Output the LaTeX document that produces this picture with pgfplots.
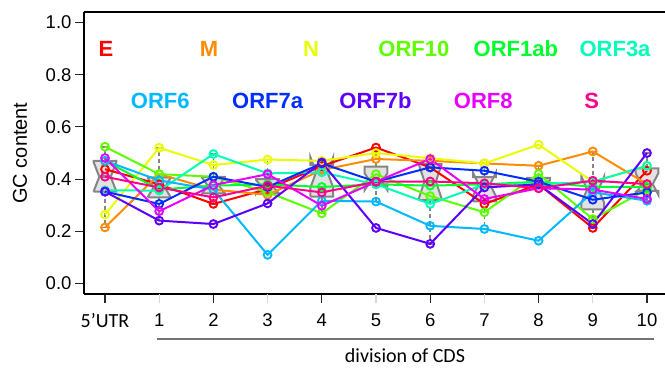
\documentclass[border=0pt]{standalone}
\usepackage{pgfplots}
\pgfplotsset{compat=1.18}
\usepackage{pgfplotstable}
\usepackage{fontspec}
\setmainfont{Liberation Sans}
\newfontfamily\carlito{Carlito}

\definecolor{cE}{HTML}{FF0000}
\definecolor{cM}{HTML}{FF8B00}
\definecolor{cN}{HTML}{E8FF00}
\definecolor{cORFten}{HTML}{5DFF00}
\definecolor{cORFoneab}{HTML}{00FF2E}
\definecolor{cORFthreea}{HTML}{00FFB9}
\definecolor{cORFsix}{HTML}{00B9FF}
\definecolor{cORFsevena}{HTML}{002EFF}
\definecolor{cORFsevenb}{HTML}{5D00FF}
\definecolor{cORFeight}{HTML}{E800FF}
\definecolor{cS}{HTML}{FF008B}
\definecolor{boxfill}{HTML}{E2E2E2}
\definecolor{boxline}{HTML}{858585}

\pgfplotstableread{
pos E M N ORF10 ORF1ab ORF3a ORF6 ORF7a ORF7b ORF8 S
1 0.438 0.215 0.264 0.524 0.470 0.357 0.470 0.352 0.352 0.481 0.409
2 0.380 0.419 0.520 0.419 0.360 0.356 0.395 0.305 0.241 0.277 0.368
3 0.305 0.360 0.454 0.409 0.375 0.496 0.360 0.409 0.228 0.377 0.330
4 0.362 0.340 0.475 0.350 0.380 0.422 0.110 0.370 0.307 0.419 0.375
5 0.450 0.435 0.470 0.269 0.370 0.426 0.317 0.460 0.464 0.298 0.349
6 0.521 0.477 0.500 0.419 0.380 0.380 0.314 0.390 0.213 0.390 0.390
7 0.445 0.470 0.480 0.335 0.375 0.305 0.221 0.445 0.152 0.477 0.391
8 0.305 0.460 0.460 0.273 0.380 0.380 0.209 0.432 0.368 0.324 0.384
9 0.380 0.451 0.532 0.420 0.390 0.380 0.164 0.390 0.380 0.365 0.365
10 0.213 0.506 0.390 0.247 0.370 0.390 0.350 0.321 0.228 0.360 0.394
11 0.432 0.381 0.451 0.360 0.370 0.451 0.317 0.349 0.500 0.324 0.381
}\gc

% five-number summaries (R fivenum / boxplot.stats) of the columns above
\pgfplotstableread{
pos q1 med q3 lo hi
1 0.3520 0.409 0.4700 0.215 0.524
2 0.3305 0.368 0.4070 0.241 0.520
3 0.3450 0.375 0.4090 0.305 0.496
4 0.3450 0.370 0.3995 0.307 0.475
5 0.3330 0.426 0.4550 0.269 0.470
6 0.3800 0.390 0.4480 0.314 0.521
7 0.3200 0.391 0.4575 0.152 0.480
8 0.3145 0.380 0.4080 0.209 0.460
9 0.3725 0.380 0.4050 0.365 0.451
10 0.2840 0.360 0.3900 0.213 0.506
11 0.3545 0.381 0.4415 0.317 0.500
}\boxstats

\begin{document}
\begin{tikzpicture}
\begin{axis}[
  at={(0,0)}, anchor=south west,
  scale only axis, width=581pt, height=282pt,
  xmin=0.6125, xmax=11.332, ymin=-0.04, ymax=1.04,
  axis y line*=left,
  axis line style={line width=1.6pt, -},
  xtick={1,3,5,7,9,11},
  xticklabels={{\carlito\fontsize{20}{22}\selectfont 5’UTR},2,4,6,8,10},
  extra x ticks={2,4,6,8,10},
  extra x tick labels={1,3,5,7,9},
  extra x tick style={major tick style={draw=black!15, line width=1.2pt}},
  ytick={0,0.2,0.4,0.6,0.8,1.0},
  tick align=outside, xtick pos=bottom, ytick pos=left,
  major tick length=9pt,
  major tick style={line width=1.2pt, black!85},
  /pgf/number format/assume math mode=true,
  yticklabel={\pgfmathprintnumber[fixed,fixed zerofill,precision=1]{\tick}},
  tick label style={font=\fontsize{18.5}{20}\selectfont},
  xticklabel style={yshift=-7pt},
  xlabel={\carlito division of CDS},
  ylabel={GC content},
  every axis x label/.style={at={(axis description cs:0.5525,0)}, anchor=center, yshift=-62pt, font=\fontsize{20}{22}\selectfont},
  every axis y label/.style={at={(axis description cs:0,0.5)}, xshift=-64pt, rotate=90, anchor=center, font=\fontsize{20}{22}\selectfont},
  clip=false,
  whisk/.style={boxline, line width=1.6pt, dash pattern=on 4pt off 3pt, mark=none},
  stap/.style={boxline, line width=1.6pt, mark=none},
  boxst/.style={draw=boxline, fill=boxfill, line width=2pt, mark=none, line join=miter},
  medst/.style={boxline, line width=3pt, mark=none},
  ser/.style={line width=2pt, mark=o, mark size=3.9pt, mark options={line width=1.9pt, solid}},
]
\pgfplotsforeachungrouped \i in {0,...,10}{%
  \pgfplotstablegetelem{\i}{pos}\of\boxstats \edef\bxp{\pgfplotsretval}%
  \pgfplotstablegetelem{\i}{q1}\of\boxstats \edef\bxqa{\pgfplotsretval}%
  \pgfplotstablegetelem{\i}{med}\of\boxstats \edef\bxmd{\pgfplotsretval}%
  \pgfplotstablegetelem{\i}{q3}\of\boxstats \edef\bxqb{\pgfplotsretval}%
  \pgfplotstablegetelem{\i}{lo}\of\boxstats \edef\bxlo{\pgfplotsretval}%
  \pgfplotstablegetelem{\i}{hi}\of\boxstats \edef\bxhi{\pgfplotsretval}%
  \pgfmathsetmacro\bxca{\bxmd-1.58*(\bxqb-\bxqa)/sqrt(11)}%
  \pgfmathsetmacro\bxcb{\bxmd+1.58*(\bxqb-\bxqa)/sqrt(11)}%
  \pgfmathsetmacro\bxxl{\bxp-0.21}%
  \pgfmathsetmacro\bxxr{\bxp+0.21}%
  \pgfmathsetmacro\bxnl{\bxp-0.105}%
  \pgfmathsetmacro\bxnr{\bxp+0.105}%
  \pgfmathsetmacro\bxsl{\bxp-0.08}%
  \pgfmathsetmacro\bxsr{\bxp+0.08}%
  \edef\doit{%
    \noexpand\addplot[whisk] coordinates {(\bxp,\bxqb) (\bxp,\bxhi)};
    \noexpand\addplot[whisk] coordinates {(\bxp,\bxqa) (\bxp,\bxlo)};
    \noexpand\addplot[stap] coordinates {(\bxsl,\bxhi) (\bxsr,\bxhi)};
    \noexpand\addplot[stap] coordinates {(\bxsl,\bxlo) (\bxsr,\bxlo)};
    \noexpand\addplot[boxst] coordinates {(\bxxl,\bxqa) (\bxxr,\bxqa) (\bxxr,\bxca) (\bxnr,\bxmd) (\bxxr,\bxcb) (\bxxr,\bxqb) (\bxxl,\bxqb) (\bxxl,\bxcb) (\bxnl,\bxmd) (\bxxl,\bxca) (\bxxl,\bxqa)};
    \noexpand\addplot[medst] coordinates {(\bxnl,\bxmd) (\bxnr,\bxmd)};
  }%
  \doit
}
\addplot[ser, color=cE] table[x=pos, y=E] {\gc};
\addplot[ser, color=cM] table[x=pos, y=M] {\gc};
\addplot[ser, color=cN] table[x=pos, y=N] {\gc};
\addplot[ser, color=cORFten] table[x=pos, y=ORF10] {\gc};
\addplot[ser, color=cORFoneab] table[x=pos, y=ORF1ab] {\gc};
\addplot[ser, color=cORFthreea] table[x=pos, y=ORF3a] {\gc};
\addplot[ser, color=cORFsix] table[x=pos, y=ORF6] {\gc};
\addplot[ser, color=cORFsevena] table[x=pos, y=ORF7a] {\gc};
\addplot[ser, color=cORFsevenb] table[x=pos, y=ORF7b] {\gc};
\addplot[ser, color=cORFeight] table[x=pos, y=ORF8] {\gc};
\addplot[ser, color=cS] table[x=pos, y=S] {\gc};

\tikzset{lg/.style={font=\bfseries\fontsize{22}{24}\selectfont, inner sep=0pt}}
\node[lg, text=cE] at (axis cs:1.02,0.90) {E};
\node[lg, text=cM] at (axis cs:2.92,0.90) {M};
\node[lg, text=cN] at (axis cs:4.80,0.90) {N};
\node[lg, text=cORFten] at (axis cs:6.70,0.90) {ORF10};
\node[lg, text=cORFoneab] at (axis cs:8.58,0.90) {ORF1ab};
\node[lg, text=cORFthreea] at (axis cs:10.41,0.90) {ORF3a};
\node[lg, text=cORFsix] at (axis cs:2.02,0.70) {ORF6};
\node[lg, text=cORFsevena] at (axis cs:4.00,0.70) {ORF7a};
\node[lg, text=cORFsevenb] at (axis cs:5.99,0.70) {ORF7b};
\node[lg, text=cORFeight] at (axis cs:7.98,0.70) {ORF8};
\node[lg, text=cS] at (axis cs:9.98,0.70) {S};

\draw[black!55, line width=1.2pt] ([yshift=-45pt]axis cs:1.96,-0.04) -- ([yshift=-45pt]axis cs:11.13,-0.04);
\end{axis}
\pgfresetboundingbox
\path (-84pt,-74pt) rectangle (581pt,294pt);
\end{tikzpicture}
\end{document}
